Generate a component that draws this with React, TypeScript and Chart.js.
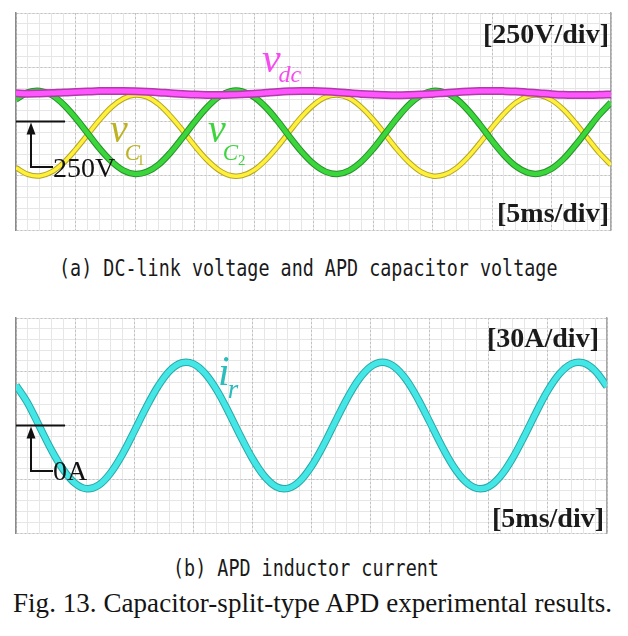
import React, { useEffect, useRef } from "react";
import { Chart, registerables } from "chart.js";

Chart.register(...registerables);

// ---- data (read from the oscilloscope captures) ----
// time samples in ms (5 ms/div, 10 divisions)
const timeMs = [0, 1, 2, 3, 4, 5, 6, 7, 8, 9, 10, 11, 12, 13, 14, 15, 16, 17, 18, 19, 20, 21, 22, 23, 24, 25, 26, 27, 28, 29, 30, 31, 32, 33, 34, 35, 36, 37, 38, 39, 40, 41, 42, 43, 44, 45, 46, 47, 48, 49, 50];

// DC-link voltage v_dc (V)
const vdcV = [380, 378, 379, 381, 384, 386, 388, 390, 390, 390, 389, 387, 384, 380, 377, 374, 372, 372, 373, 375, 378, 382, 386, 389, 391, 390, 388, 385, 381, 377, 374, 372, 371, 372, 374, 377, 381, 385, 388, 390, 391, 390, 388, 384, 380, 376, 373, 372, 372, 373, 375];

// APD capacitor voltage v_C1 (V)
const vC1V = [37, 6, -1, 18, 60, 120, 188, 256, 315, 355, 372, 363, 329, 274, 209, 139, 76, 28, 1, 1, 26, 73, 135, 205, 272, 326, 362, 372, 357, 317, 260, 192, 123, 63, 19, -1, 5, 35, 87, 152, 222, 286, 337, 366, 371, 349, 305, 244, 175, 107, 50];

// APD capacitor voltage v_C2 (V)
const vC2V = [352, 384, 391, 372, 328, 267, 197, 127, 67, 25, 8, 18, 52, 108, 176, 247, 312, 362, 389, 389, 363, 315, 251, 179, 111, 55, 19, 8, 24, 64, 123, 193, 264, 326, 370, 391, 385, 354, 301, 234, 162, 96, 44, 14, 10, 32, 77, 140, 210, 280, 338];

// APD inductor current i_r (A)
const irA = [22.5, 12.4, -0.7, -13.7, -24.7, -32.3, -35.3, -33.3, -26.5, -16.1, -3.3, 9.9, 21.7, 30.5, 34.9, 34.4, 29.0, 19.6, 7.3, -6.0, -18.4, -28.2, -34.1, -35.1, -31.1, -22.7, -11.2, 2.0, 14.9, 25.7, 32.8, 35.3, 32.8, 25.7, 14.9, 2.0, -11.2, -22.8, -31.1, -35.1, -34.1, -28.2, -18.4, -6.0, 7.3, 19.6, 29.0, 34.4, 34.9, 30.5, 21.7];

// axis ranges (div settings)
const timeAxis = { min: 0, max: 50, major: 5, minor: 1 };
const voltAxis = { min: -250, max: 750, major: 250, minor: 50 };
const currAxis = { min: -60, max: 60, major: 30, minor: 6 };

// ---- helpers ----
type Piece = { text: string; font: string; dx?: number; dy?: number };
type Note = { t: number; v: number; color: string; align?: "left" | "right"; pieces: Piece[] };
type Marker = { t: number; level: number; footV: number; footEndT: number; lineEndT: number; text: string; labelDy: number };

const SERIF = '"Liberation Serif", "Times New Roman", serif';

function trace(values: number[], color: string, width: number, order: number) {
  return {
    data: timeMs.map((t, i) => ({ x: t, y: values[i] })),
    borderColor: color,
    borderWidth: width,
    pointRadius: 0,
    tension: 0.35,
    fill: false,
    order,
  };
}

function notesPlugin(notes: Note[], marker: Marker) {
  return {
    id: "scopeNotes",
    afterDatasetsDraw(chart: any) {
      const ctx: CanvasRenderingContext2D = chart.ctx;
      const xs = chart.scales.x;
      const ys = chart.scales.y;
      const area = chart.chartArea;
      ctx.save();
      // reference-level marker
      const lx = xs.getPixelForValue(marker.t);
      const ly = ys.getPixelForValue(marker.level);
      const fy = ys.getPixelForValue(marker.footV);
      const fx = xs.getPixelForValue(marker.footEndT);
      ctx.strokeStyle = "#111";
      ctx.lineWidth = 2;
      ctx.beginPath();
      ctx.moveTo(area.left, ly);
      ctx.lineTo(xs.getPixelForValue(marker.lineEndT), ly);
      ctx.moveTo(lx, ly + 10);
      ctx.lineTo(lx, fy);
      ctx.lineTo(fx, fy);
      ctx.stroke();
      ctx.fillStyle = "#111";
      ctx.beginPath();
      ctx.moveTo(lx, ly + 1);
      ctx.lineTo(lx - 4.5, ly + 13);
      ctx.lineTo(lx + 4.5, ly + 13);
      ctx.closePath();
      ctx.fill();
      ctx.font = `28px ${SERIF}`;
      ctx.textAlign = "left";
      ctx.textBaseline = "alphabetic";
      ctx.fillText(marker.text, fx, fy + marker.labelDy);
      // text notes
      for (const n of notes) {
        let x = xs.getPixelForValue(n.t);
        const y = ys.getPixelForValue(n.v);
        if (n.align === "right") {
          let w = 0;
          for (const p of n.pieces) {
            ctx.font = p.font;
            w += ctx.measureText(p.text).width + (p.dx || 0);
          }
          x -= w;
        }
        ctx.fillStyle = n.color;
        for (const p of n.pieces) {
          ctx.font = p.font;
          x += p.dx || 0;
          ctx.fillText(p.text, x, y + (p.dy || 0));
          x += ctx.measureText(p.text).width;
        }
      }
      ctx.restore();
    },
  };
}

function gridScale(axis: "x" | "y", position: string, range: { min: number; max: number }, step: number, color: string, dash: number[], border: any) {
  return {
    type: "linear",
    axis,
    position,
    min: range.min,
    max: range.max,
    ticks: { display: false, stepSize: step },
    grid: { color, lineWidth: 1, drawTicks: false },
    border: { dash, ...border },
  };
}

function scopeScales(yRange: { min: number; max: number; major: number; minor: number }) {
  return {
    xMinor: gridScale("x", "bottom", timeAxis, timeAxis.minor, "#e6e6e6", [], { display: false }),
    yMinor: gridScale("y", "left", yRange, yRange.minor, "#e6e6e6", [], { display: false }),
    x: gridScale("x", "bottom", timeAxis, timeAxis.major, "#c2c2c2", [2, 2], { display: false }),
    y: gridScale("y", "left", yRange, yRange.major, "#c2c2c2", [2, 2], { display: true, color: "#8a8a8a", width: 1.5 }),
    yRight: {
      type: "linear",
      axis: "y",
      position: "right",
      min: yRange.min,
      max: yRange.max,
      ticks: { display: false },
      grid: { display: false, drawTicks: false },
      border: { display: true, color: "#a8a8a8", width: 1.5 },
    },
  };
}

function Scope(props: { datasets: any[]; yRange: any; notes: Note[]; marker: Marker; left: number; top: number; width: number; height: number }) {
  const ref = useRef<HTMLCanvasElement>(null);
  useEffect(() => {
    const chart = new Chart(ref.current as HTMLCanvasElement, {
      type: "line",
      data: { datasets: props.datasets },
      options: {
        animation: false,
        responsive: false,
        maintainAspectRatio: false,
        events: [],
        layout: { padding: 4 },
        plugins: { legend: { display: false }, tooltip: { enabled: false } },
        scales: scopeScales(props.yRange) as any,
      },
      plugins: [notesPlugin(props.notes, props.marker)],
    } as any);
    return () => chart.destroy();
  }, []);
  return (
    <canvas
      ref={ref}
      width={props.width}
      height={props.height}
      style={{ position: "absolute", left: props.left, top: props.top, width: props.width, height: props.height }}
    />
  );
}

// ---- panel (a) ----
const voltDatasets = [
  trace(vdcV, "#ff55ff", 5, 1),
  trace(vdcV, "#b03aa8", 8, 2),
  trace(vC2V, "#3bd63b", 4.5, 3),
  trace(vC2V, "#27902a", 6.5, 4),
  trace(vC1V, "#fff03c", 3.5, 5),
  trace(vC1V, "#b5a526", 5.5, 6),
];

const voltNotes: Note[] = [
  { t: 49.83, v: 612, color: "#1b1b1b", align: "right", pieces: [{ text: "[250V/div]", font: `bold 28px ${SERIF}` }] },
  { t: 49.83, v: -213, color: "#1b1b1b", align: "right", pieces: [{ text: "[5ms/div]", font: `bold 28px ${SERIF}` }] },
  {
    t: 20.67, v: 478, color: "#f54cf0",
    pieces: [
      { text: "v", font: `italic 42px ${SERIF}` },
      { text: "dc", font: `italic 24px ${SERIF}`, dx: -2, dy: 10 },
    ],
  },
  {
    t: 7.9, v: 155, color: "#bcb224",
    pieces: [
      { text: "v", font: `italic 40px ${SERIF}` },
      { text: "C", font: `italic 23px ${SERIF}`, dx: -3, dy: 18 },
      { text: "1", font: `15px ${SERIF}`, dx: -3, dy: 23 },
    ],
  },
  {
    t: 16.13, v: 155, color: "#3ed43e",
    pieces: [
      { text: "v", font: `italic 40px ${SERIF}` },
      { text: "C", font: `italic 23px ${SERIF}`, dx: -3, dy: 18 },
      { text: "2", font: `15px ${SERIF}`, dx: 0, dy: 23 },
    ],
  },
];

const voltMarker: Marker = { t: 1.26, level: 250, footV: 40, footEndT: 3.11, lineEndT: 4.12, text: "250V", labelDy: 10 };

// ---- panel (b) ----
const currDatasets = [
  trace(irA, "#44e6e6", 5.5, 1),
  trace(irA, "#2aa8a8", 7.5, 2),
];

const currNotes: Note[] = [
  { t: 49.32, v: 43.8, color: "#1b1b1b", align: "right", pieces: [{ text: "[30A/div]", font: `bold 28px ${SERIF}` }] },
  { t: 49.75, v: -56.7, color: "#1b1b1b", align: "right", pieces: [{ text: "[5ms/div]", font: `bold 28px ${SERIF}` }] },
  {
    t: 17.1, v: 22.6, color: "#2bbcbc",
    pieces: [
      { text: "i", font: `italic 42px ${SERIF}` },
      { text: "r", font: `italic 27px ${SERIF}`, dx: -2, dy: 13 },
    ],
  },
];

const currMarker: Marker = { t: 1.27, level: 0, footV: -25.4, footEndT: 3.13, lineEndT: 4.15, text: "0A", labelDy: 9 };

const captionStyle = (left: number, top: number): React.CSSProperties => ({
  position: "absolute",
  left,
  top,
  fontFamily: '"DejaVu Sans Mono", monospace',
  fontSize: 23,
  lineHeight: "23px",
  transform: "scaleX(0.8)",
  transformOrigin: "0 0",
  whiteSpace: "nowrap",
  color: "#1a1a1a",
});

export default function App() {
  return (
    <div style={{ position: "absolute", left: 0, top: 0, width: 628, height: 636, background: "#fff", overflow: "hidden" }}>
      <Scope datasets={voltDatasets} yRange={voltAxis} notes={voltNotes} marker={voltMarker} left={12} top={9} width={603} height={225} />
      <div style={captionStyle(59, 257)}>(a) DC-link voltage and APD capacitor voltage</div>
      <Scope datasets={currDatasets} yRange={currAxis} notes={currNotes} marker={currMarker} left={12} top={314} width={599} height={223} />
      <div style={captionStyle(173, 557)}>(b) APD inductor current</div>
      <div
        style={{
          position: "absolute",
          left: 13,
          top: 590,
          fontFamily: SERIF,
          fontSize: 27,
          lineHeight: "27px",
          whiteSpace: "nowrap",
          letterSpacing: "0.05px",
          color: "#141414",
        }}
      >
        Fig. 13. Capacitor-split-type APD experimental results.
      </div>
    </div>
  );
}
